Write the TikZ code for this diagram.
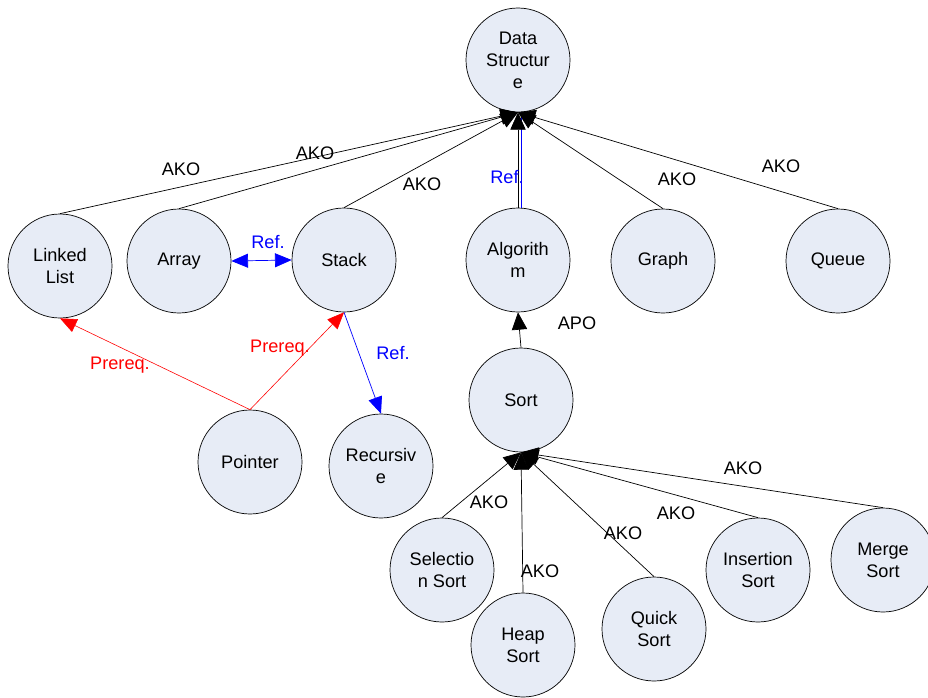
\documentclass[tikz,border=0pt]{standalone}
\usepackage{fontspec}
\setmainfont{Liberation Sans}
\usepackage{tikz}
\usetikzlibrary{arrows.meta, positioning}
\definecolor{conceptfill}{RGB}{231,236,246}
\definecolor{refblue}{RGB}{0,0,255}
\definecolor{prereqred}{RGB}{255,0,0}

\begin{document}
\begin{tikzpicture}[x=0.03cm, y=-0.03cm,
	every node/.style={font=\fontsize{15.5}{18.8}\selectfont},
	concept/.style={draw, circle, fill=conceptfill, line width=0.6pt, minimum size=3.12cm, inner sep=0pt, align=center},
	akolink/.style={draw, line width=0.6pt, -{Triangle[length=0.52cm, width=0.46cm]}},
	reflink/.style={draw, refblue, line width=0.6pt, -{Triangle[length=0.5cm, width=0.42cm]}},
	prereqlink/.style={draw, prereqred, line width=0.5pt, -{Triangle[length=0.5cm, width=0.42cm]}},
	reflabel/.style={text=refblue},
	prereqlabel/.style={text=prereqred}]

\useasboundingbox [fill=white] (0,0) rectangle (928,697);

% top level
\node [concept] (ds) at (518,60) {Data\\Structur\\e};

% next level
\node [concept] (linkedlist) at (60,266)  {Linked\\List};
\node [concept] (array)      at (179,261) {Array};
\node [concept] (stack)      at (344,260) {Stack};
\node [concept] (algorithm)  at (518,260) {Algorith\\m};
\node [concept] (graph)      at (663,261) {Graph};
\node [concept] (queue)      at (838,261) {Queue};

\path [draw, refblue, line width=0.6pt] ([xshift=3]algorithm.north) -- ([xshift=3]ds.south);
\path [akolink] (linkedlist.north) -- (ds.south);
\path [akolink] (array.north)      -- (ds.south);
\path [akolink] (stack.north)      -- (ds.south);
\path [akolink] (algorithm.north)  -- (ds.south);
\path [akolink] (graph.north)      -- (ds.south);
\path [akolink] (queue.north)      -- (ds.south);

\node (akolinkedlist) at (181,169) {AKO};
\node (akoarray)      at (315,153) {AKO};
\node (akostack)      at (422,184) {AKO};
\node [reflabel] (refalgorithm) at (507,177) {Ref.};
\node (akograph)      at (677,179) {AKO};
\node (akoqueue)      at (781,166) {AKO};

\path [reflink, {Triangle[length=0.5cm, width=0.42cm]}-{Triangle[length=0.5cm, width=0.42cm]}] (array.east) -- (stack.west);
\node [reflabel] (refarray) at (268,242) {Ref.};

% next level
\node [concept] (sort)      at (521,400) {Sort};
\node [concept] (pointer)   at (250,462) {Pointer};
\node [concept] (recursive) at (381,466) {Recursiv\\e};

\path [akolink] (sort.north) -- (algorithm.south);
\node (aposort) at (577,323) {APO};

\path [prereqlink] (pointer.north) -- (linkedlist.south);
\path [prereqlink] (pointer.north) -- (stack.south);
\path [reflink]    (stack.south)   -- (recursive.north);

\node [prereqlabel] (prereqlinkedlist) at (120,365) {Prereq.};
\node [prereqlabel] (prereqstack)      at (280,348) {Prereq.};
\node [reflabel]    (refstack)         at (393,353) {Ref.};

% next level
\node [concept] (selection) at (442,570) {Selectio\\n Sort};
\node [concept] (heap)      at (523,645) {Heap\\Sort};
\node [concept] (quick)     at (654,629) {Quick\\Sort};
\node [concept] (insertion) at (758,570) {Insertion\\Sort};
\node [concept] (merge)     at (883,560) {Merge\\Sort};

\path [akolink] (selection.north) -- (sort.south);
\path [akolink] (heap.north)      -- (sort.south);
\path [akolink] (quick.north)     -- (sort.south);
\path [akolink] (insertion.north) -- (sort.south);
\path [akolink] (merge.north)     -- (sort.south);

\node (akoselection) at (489,502) {AKO};
\node (akoheap)      at (540,571) {AKO};
\node (akoquick)     at (623,533) {AKO};
\node (akoinsertion) at (676,513) {AKO};
\node (akomerge)     at (743,468) {AKO};

\end{tikzpicture}
\end{document}
